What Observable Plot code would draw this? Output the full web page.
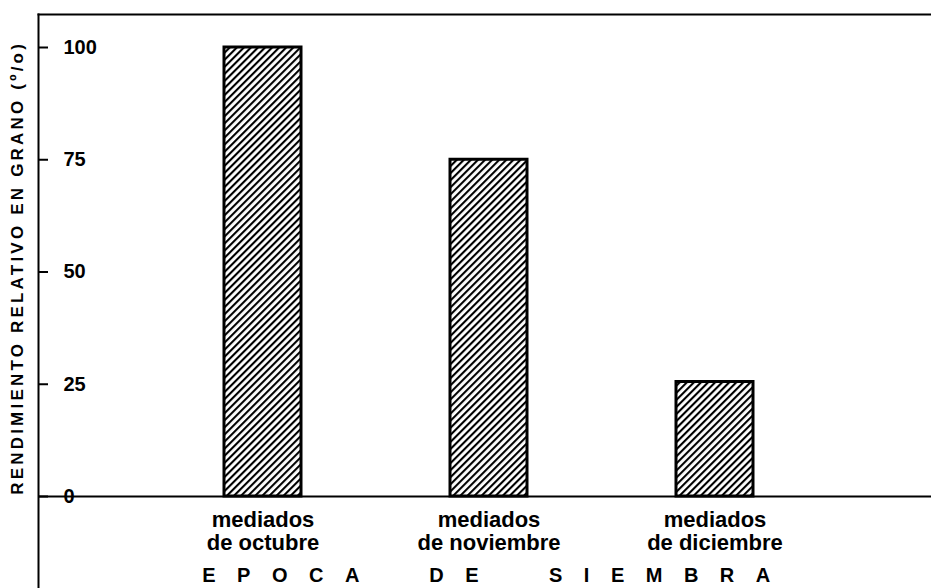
<!DOCTYPE html>
<html>
<head>
<meta charset="utf-8">
<script src="https://cdn.jsdelivr.net/npm/d3@7"></script>
<script src="https://cdn.jsdelivr.net/npm/@observablehq/plot@0.6"></script>
<style>
  html, body { margin: 0; padding: 0; background: #fff; }
  #chart svg { display: block; }
</style>
</head>
<body>
<div id="chart"></div>
<script>
// Data
const categories = ["mediados\nde octubre", "mediados\nde noviembre", "mediados\nde diciembre"];
const values = [100, 75, 25.5];
const yTicks = [0, 25, 50, 75, 100];
const yTitle = "RENDIMIENTO RELATIVO EN GRANO (º/o)";
const xTitle = "EPOCA DE SIEMBRA";

const data = categories.map((c, i) => ({epoca: c, rendimiento: values[i]}));

const W = 931, H = 588;
const chart = Plot.plot({
  width: W,
  height: H,
  marginLeft: 38,
  marginRight: 0,
  marginTop: 14,
  marginBottom: 0,
  style: {fontFamily: "'Liberation Sans', Arial, Helvetica, sans-serif", background: "#fff", color: "#000"},
  x: {domain: categories, paddingInner: 0.66, paddingOuter: 0.8013, align: 0.511, axis: null},
  y: {domain: [0, 100], range: [496, 47], axis: null},
  marks: [
    Plot.barY(data, {x: "epoca", y: "rendimiento", fill: "url(#hatch)", stroke: "#000", strokeWidth: 3}),
    Plot.ruleY([0], {stroke: "#000", strokeWidth: 2}),
    Plot.frame({anchor: "left", stroke: "#000", strokeWidth: 2}),
    Plot.frame({anchor: "top", stroke: "#000", strokeWidth: 2}),
    Plot.ruleY(yTicks, {y: d => d, insetRight: W - 38 - 10, stroke: "#000", strokeWidth: 2}),
    Plot.text(yTicks, {y: d => d, text: d => String(d), frameAnchor: "left", dx: 25, textAnchor: "start",
      lineAnchor: "middle", fontSize: 20, fontWeight: "bold"}),
    Plot.text(categories, {x: d => d, y: () => 0, text: d => d, lineAnchor: "top", dy: 14,
      lineHeight: 1.05, fontSize: 22, fontWeight: "bold"}),
    Plot.text([xTitle], {y: () => 0, text: d => d, lineAnchor: "top", dy: 71, frameAnchor: "middle",
      textAnchor: "middle", fontSize: 20, fontWeight: "bold"}),
    Plot.text([yTitle], {text: d => d, frameAnchor: "left", textAnchor: "middle", dx: -21, dy: -32, rotate: -90,
      lineAnchor: "middle", fontSize: 17, fontWeight: "bold"})
  ]
});

// hatch pattern
const svg = d3.select(chart);
const defs = svg.insert("defs", ":first-child");
const pat = defs.append("pattern")
  .attr("id", "hatch")
  .attr("patternUnits", "userSpaceOnUse")
  .attr("width", 5)
  .attr("height", 5)
  .attr("patternTransform", "rotate(45)");
pat.append("rect").attr("width", 5).attr("height", 5).attr("fill", "#fff");
pat.append("line").attr("x1", 1).attr("y1", 0).attr("x2", 1).attr("y2", 5)
  .attr("stroke", "#000").attr("stroke-width", 2.2);

// letter spacing for the titles (compensating the trailing spacing when centred)
svg.selectAll("text").each(function() {
  const t = this.textContent;
  if (t === xTitle) {
    d3.select(this).attr("letter-spacing", 21.5).attr("word-spacing", 22).attr("dx", 12);
  }
  if (t === yTitle) {
    d3.select(this).attr("letter-spacing", 3.2).attr("dx", 1.6);
  }
});

document.getElementById("chart").appendChild(chart);
</script>
</body>
</html>
